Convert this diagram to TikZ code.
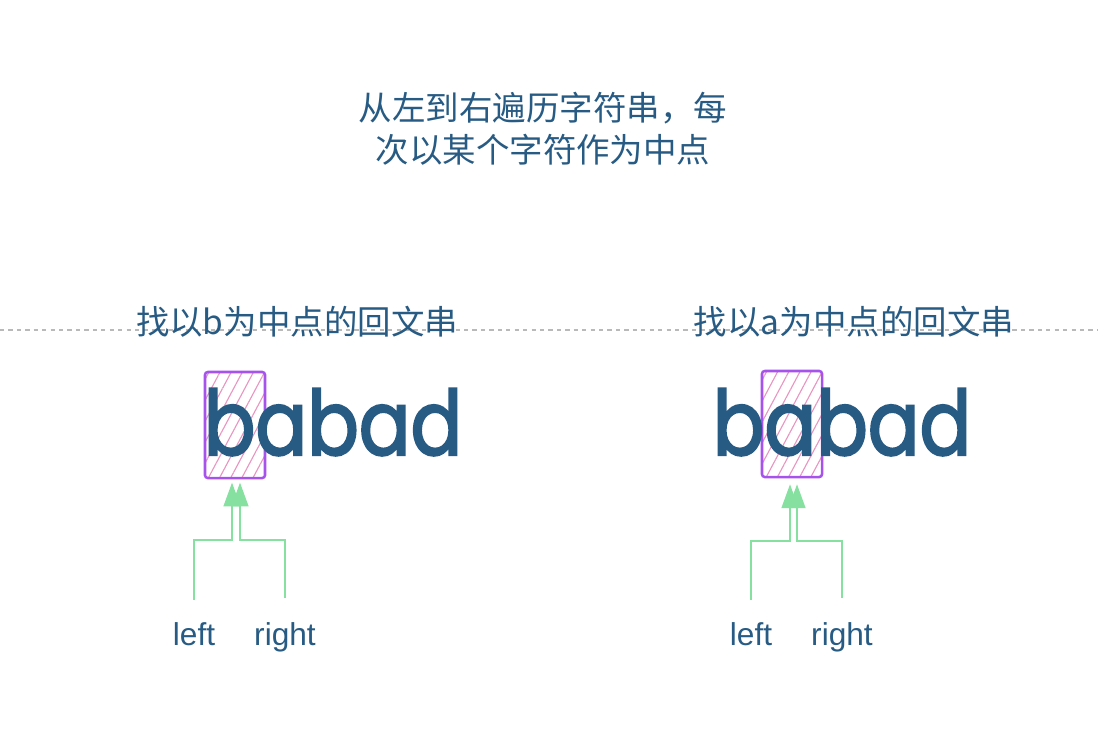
\documentclass[tikz,border=0pt]{standalone}
\usepackage{fontspec}
\setmainfont{Liberation Sans}
\newfontfamily\cjk{Noto Sans CJK SC}
\newfontfamily\wordfont[FakeStretch=0.85, FakeBold=2.2]{Poppins}
\usetikzlibrary{arrows.meta, positioning, calc, patterns.meta}
\definecolor{inkblue}{RGB}{40, 91, 131}
\definecolor{ptrgreen}{RGB}{134, 224, 160}
\definecolor{boxpurple}{RGB}{166, 82, 236}
\definecolor{hatchpink}{RGB}{232, 150, 192}
\definecolor{rulegray}{RGB}{185, 185, 185}
\tikzset{
  cjktext/.style={text=inkblue, font=\cjk\fontsize{23.8pt}{30pt}\selectfont, align=center, inner sep=0pt},
  wordtext/.style={text=inkblue, font=\wordfont\fontsize{64pt}{66pt}\selectfont, inner sep=0pt, anchor=base},
  ptrlabel/.style={text=inkblue, font=\fontsize{22.5pt}{26pt}\selectfont, inner sep=0pt, anchor=base},
  centerbox/.style={draw=boxpurple, line width=1.8pt, rounded corners=2pt,
    pattern={Lines[angle=62, distance=7pt, line width=0.8pt]}, pattern color=hatchpink,
    minimum width=1.5cm, minimum height=2.65cm, inner sep=0pt},
  ptr/.style={draw=ptrgreen, line width=1.4pt, -{Triangle[length=17pt, width=12pt]}}
}
\begin{document}
\begin{tikzpicture}[x=0.025cm, y=-0.025cm]
  \useasboundingbox (0,0) rectangle (1098,744);

  % Title
  \node[cjktext] (title) at (543,129) {从左到右遍历字符串，每\\次以某个字符作为中点};

  % Separator
  \coordinate (ruleW) at (0,330);
  \coordinate (ruleE) at (1098,330);
  \draw[rulegray, line width=0.8pt, dash pattern=on 3pt off 3pt] (ruleW) -- (ruleE);

  % Left case: center at b
  \node[cjktext] (capL) at (297,322) {找以b为中点的回文串};
  \node[centerbox] (boxL) at (235,425) {};
  \node[wordtext] (wordL) at (333,455) {babad};
  \node[ptrlabel] (leftL) at (194,645) {left};
  \node[ptrlabel] (rightL) at (285,645) {right};
  \draw[ptr] ($(leftL.north)+(0,-22)$) |- ($(boxL.south)+(-3,61)$) -- ($(boxL.south)+(-3,4)$);
  \draw[ptr] ($(rightL.north)+(0,-24)$) |- ($(boxL.south)+(5,61)$) -- ($(boxL.south)+(5,4)$);

  % Right case: center at a
  \node[cjktext] (capR) at (854,322) {找以a为中点的回文串};
  \node[centerbox] (boxR) at (792,424) {};
  \node[wordtext] (wordR) at (842,455) {babad};
  \node[ptrlabel] (leftR) at (751,645) {left};
  \node[ptrlabel] (rightR) at (842,645) {right};
  \draw[ptr] ($(leftR.north)+(0,-22)$) |- ($(boxR.south)+(-2,63)$) -- ($(boxR.south)+(-2,6)$);
  \draw[ptr] ($(rightR.north)+(0,-24)$) |- ($(boxR.south)+(5,63)$) -- ($(boxR.south)+(5,6)$);
\end{tikzpicture}
\end{document}
